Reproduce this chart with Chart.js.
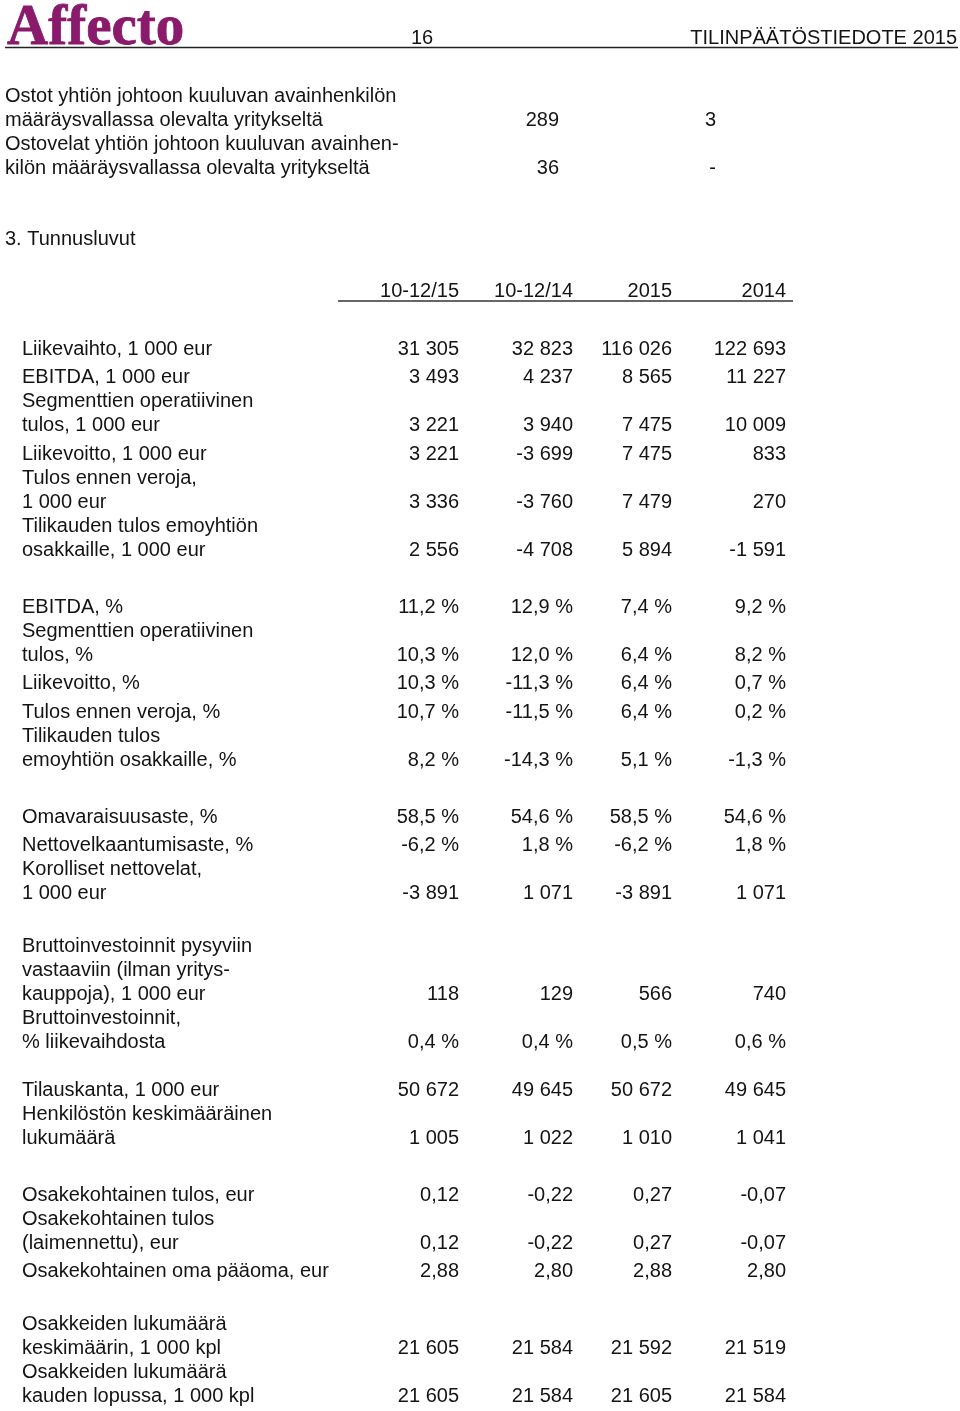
<!DOCTYPE html>
<html>
<head>
<meta charset="utf-8">
<script src="https://cdn.jsdelivr.net/npm/chart.js@4"></script>
<style>
  html, body { margin: 0; padding: 0; background: #fff; }
  #page { display: block; }
</style>
</head>
<body>
<canvas id="page" width="960" height="1411"></canvas>
<script>
// --- data ---
const introLabels = [
    ['Ostot yhtiön johtoon kuuluvan avainhenkilön', 'määräysvallassa olevalta yritykseltä'],
    ['Ostovelat yhtiön johtoon kuuluvan avainhen-', 'kilön määräysvallassa olevalta yritykseltä']
];
const introCol1 = ['289', '36'];
const introCol2 = ['3', '-'];

const columnLabels = ['10-12/15', '10-12/14', '2015', '2014'];

const rowLabels = [
    ['Liikevaihto, 1 000 eur'],
    ['EBITDA, 1 000 eur'],
    ['Segmenttien operatiivinen', 'tulos, 1 000 eur'],
    ['Liikevoitto, 1 000 eur'],
    ['Tulos ennen veroja,', '1 000 eur'],
    ['Tilikauden tulos emoyhtiön', 'osakkaille, 1 000 eur'],
    ['EBITDA, %'],
    ['Segmenttien operatiivinen', 'tulos, %'],
    ['Liikevoitto, %'],
    ['Tulos ennen veroja, %'],
    ['Tilikauden tulos', 'emoyhtiön osakkaille, %'],
    ['Omavaraisuusaste, %'],
    ['Nettovelkaantumisaste, %'],
    ['Korolliset nettovelat,', '1 000 eur'],
    ['Bruttoinvestoinnit pysyviin', 'vastaaviin (ilman yritys-', 'kauppoja), 1 000 eur'],
    ['Bruttoinvestoinnit,', '% liikevaihdosta'],
    ['Tilauskanta, 1 000 eur'],
    ['Henkilöstön keskimääräinen', 'lukumäärä'],
    ['Osakekohtainen tulos, eur'],
    ['Osakekohtainen tulos', '(laimennettu), eur'],
    ['Osakekohtainen oma pääoma, eur'],
    ['Osakkeiden lukumäärä', 'keskimäärin, 1 000 kpl'],
    ['Osakkeiden lukumäärä', 'kauden lopussa, 1 000 kpl']
];

const q4_2015 = ['31 305', '3 493', '3 221', '3 221', '3 336', '2 556',
    '11,2 %', '10,3 %', '10,3 %', '10,7 %', '8,2 %',
    '58,5 %', '-6,2 %', '-3 891',
    '118', '0,4 %',
    '50 672', '1 005',
    '0,12', '0,12', '2,88',
    '21 605', '21 605'];
const q4_2014 = ['32 823', '4 237', '3 940', '-3 699', '-3 760', '-4 708',
    '12,9 %', '12,0 %', '-11,3 %', '-11,5 %', '-14,3 %',
    '54,6 %', '1,8 %', '1 071',
    '129', '0,4 %',
    '49 645', '1 022',
    '-0,22', '-0,22', '2,80',
    '21 584', '21 584'];
const fy2015 = ['116 026', '8 565', '7 475', '7 475', '7 479', '5 894',
    '7,4 %', '6,4 %', '6,4 %', '6,4 %', '5,1 %',
    '58,5 %', '-6,2 %', '-3 891',
    '566', '0,5 %',
    '50 672', '1 010',
    '0,27', '0,27', '2,88',
    '21 592', '21 605'];
const fy2014 = ['122 693', '11 227', '10 009', '833', '270', '-1 591',
    '9,2 %', '8,2 %', '0,7 %', '0,2 %', '-1,3 %',
    '54,6 %', '1,8 %', '1 071',
    '740', '0,6 %',
    '49 645', '1 041',
    '-0,07', '-0,07', '2,80',
    '21 519', '21 584'];

// first row index of each block (a blank gap sits before each)
const groupStarts = [6, 11, 14, 16, 18, 21];

// --- layout ---
const W = 960, H = 1411;
const FONT = '20px "Liberation Sans", Arial, sans-serif';
const INK = '#141414';
const LINE = 24;
const colRight = [459, 573, 672, 786];
const gapHeights = [28.5, 28.5, 28.5, 19.5, 28.5, 28.5];
const DY = 2; // text centre offset from row line

function rowHeight(n) {
    return Math.max(28.5, n * LINE);
}

// y of the last line of each row
function rowPositions() {
    const out = [];
    let y = 347;
    rowLabels.forEach((lines, i) => {
        if (i > 0) {
            const g = groupStarts.indexOf(i);
            if (g >= 0) y += gapHeights[g];
            y += rowHeight(lines.length);
        }
        out.push(y);
    });
    return out;
}

const pagePlugin = {
    id: 'page',
    afterDraw(chart) {
        const ctx = chart.ctx;
        const xs = chart.scales.x, ys = chart.scales.y;
        const px = v => xs.getPixelForValue(v);
        const py = v => ys.getPixelForValue(v + DY);

        ctx.save();
        ctx.fillStyle = INK;

        // header
        ctx.fillStyle = '#8a1a6b';
        ctx.font = 'bold 57px "Liberation Serif", "Times New Roman", serif';
        ctx.textAlign = 'left';
        ctx.textBaseline = 'alphabetic';
        ctx.fillText('Affecto', px(7), ys.getPixelForValue(44));
        ctx.strokeStyle = '#8a1a6b';
        ctx.lineWidth = 0.8;
        ctx.strokeText('Affecto', px(7), ys.getPixelForValue(44));
        ctx.fillStyle = INK;
        ctx.textBaseline = 'middle';
        ctx.font = FONT;
        ctx.fillText('16', px(411), py(36));
        ctx.textAlign = 'right';
        ctx.fillText('TILINPÄÄTÖSTIEDOTE 2015', px(957), py(36));
        ctx.strokeStyle = '#222';
        ctx.lineWidth = 1.5;
        ctx.beginPath();
        ctx.moveTo(px(5), ys.getPixelForValue(47.5));
        ctx.lineTo(px(958), ys.getPixelForValue(47.5));
        ctx.stroke();

        // intro rows
        introLabels.forEach((lines, i) => {
            const last = 118 + i * 48;
            lines.forEach((t, j) => {
                ctx.textAlign = 'left';
                ctx.fillText(t, px(5), py(last - (lines.length - 1 - j) * LINE));
            });
            ctx.textAlign = 'right';
            ctx.fillText(introCol1[i], px(559), py(last));
            ctx.fillText(introCol2[i], px(716), py(last));
        });

        // section title
        ctx.textAlign = 'left';
        ctx.fillText('3. Tunnusluvut', px(5), py(237));

        // column heads
        ctx.textAlign = 'right';
        columnLabels.forEach((t, c) => ctx.fillText(t, px(colRight[c]), py(289)));
        ctx.strokeStyle = '#333';
        ctx.lineWidth = 1.5;
        ctx.beginPath();
        ctx.moveTo(px(338), ys.getPixelForValue(301));
        ctx.lineTo(px(793), ys.getPixelForValue(301));
        ctx.stroke();

        // body
        const cols = [q4_2015, q4_2014, fy2015, fy2014];
        rowPositions().forEach((y, i) => {
            const lines = rowLabels[i];
            ctx.textAlign = 'left';
            lines.forEach((t, j) => {
                ctx.fillText(t, px(22), py(y - (lines.length - 1 - j) * LINE));
            });
            ctx.textAlign = 'right';
            cols.forEach((col, c) => ctx.fillText(col[i], px(colRight[c]), py(y)));
        });
        ctx.restore();
    }
};

new Chart(document.getElementById('page'), {
    type: 'scatter',
    data: { datasets: [{ data: [], pointRadius: 0 }] },
    options: {
        responsive: false,
        animation: false,
        events: [],
        layout: { padding: 0 },
        plugins: { legend: { display: false }, tooltip: { enabled: false } },
        scales: {
            x: { type: 'linear', min: 0, max: W, display: false },
            y: { type: 'linear', min: 0, max: H, reverse: true, display: false }
        }
    },
    plugins: [pagePlugin]
});
</script>
</body>
</html>
